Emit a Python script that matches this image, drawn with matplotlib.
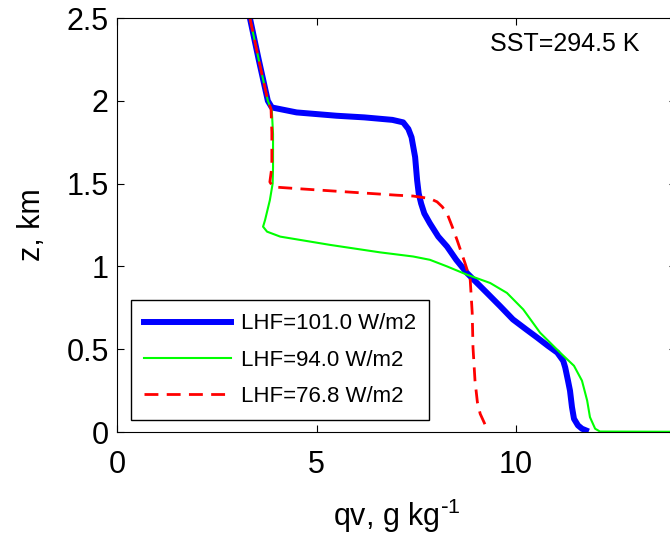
import numpy as np
import matplotlib
matplotlib.use('Agg')
import matplotlib.pyplot as plt
from matplotlib.ticker import FormatStrFormatter

plt.rcParams['font.family'] = ['Liberation Sans', 'DejaVu Sans']
plt.rcParams['mathtext.default'] = 'regular'

# profiles: qv (g/kg) against z (km)
qv_101 = [3.33, 3.55, 3.78, 3.88, 4.5, 5.5, 6.2, 6.9, 7.17, 7.30, 7.38, 7.47, 7.52, 7.56,
          7.62, 7.70, 7.84, 8.05, 8.27, 8.50, 8.77, 9.27, 9.60, 9.92, 10.25, 10.53, 10.8,
          11.03, 11.18, 11.23, 11.30, 11.35, 11.40, 11.45, 11.55, 11.65, 11.75]
z_101 = [2.5, 2.25, 2.0, 1.96, 1.93, 1.91, 1.90, 1.885, 1.87, 1.83, 1.78, 1.66, 1.52, 1.44,
         1.38, 1.32, 1.26, 1.18, 1.12, 1.04, 0.96, 0.84, 0.76, 0.68, 0.62, 0.57, 0.52,
         0.48, 0.43, 0.39, 0.31, 0.25, 0.15, 0.08, 0.04, 0.02, 0.01]

qv_94 = [3.33, 3.55, 3.78, 3.88, 3.91, 3.91, 3.90, 3.83, 3.71, 3.66, 3.76, 4.09, 5.34, 6.59,
         7.42, 7.84, 8.27, 8.77, 9.35, 9.77, 10.18, 10.6, 11.10, 11.45, 11.65, 11.78, 11.85,
         11.98, 12.10, 16.0]
z_94 = [2.5, 2.25, 2.0, 1.94, 1.80, 1.60, 1.50, 1.40, 1.28, 1.24, 1.21, 1.18, 1.13, 1.085,
        1.06, 1.04, 1.00, 0.95, 0.90, 0.84, 0.74, 0.60, 0.48, 0.40, 0.31, 0.19, 0.09,
        0.02, 0.003, 0.0]

qv_77 = [3.33, 3.55, 3.78, 3.86, 3.88, 3.88, 3.83, 3.91, 4.51, 5.76, 7.02, 7.42, 7.84, 8.02,
         8.15, 8.27, 8.40, 8.52, 8.72, 8.85, 8.90, 8.92, 8.97, 9.03, 9.10, 9.27]
z_77 = [2.5, 2.25, 2.0, 1.95, 1.81, 1.60, 1.51, 1.48, 1.47, 1.45, 1.43, 1.425, 1.41, 1.39,
        1.36, 1.32, 1.24, 1.16, 1.02, 0.92, 0.72, 0.51, 0.31, 0.18, 0.11, 0.02]

labels = ['LHF=101.0 W/m2', 'LHF=94.0 W/m2', 'LHF=76.8 W/m2']

fig = plt.figure(figsize=(6.7, 5.45), dpi=100)
ax = fig.add_axes([0.1746, 0.2073, 0.834, 0.7596])

ax.plot(qv_101, z_101, color='#0000ff', lw=4.3, label=labels[0])
ax.plot(qv_94, z_94, color='#00ff00', lw=1.5, label=labels[1])
ax.plot(qv_77, z_77, color='#ff0000', lw=2.0, ls=(0, (5, 3)), label=labels[2])

ax.set_xlim(0, 14)
ax.set_ylim(0, 2.5)
ax.set_xticks([0, 5, 10])
ax.set_yticks(np.arange(0, 2.51, 0.5))
ax.yaxis.set_major_formatter(FormatStrFormatter('%g'))
ax.tick_params(direction='in', top=True, right=True, length=5, width=0.8,
               labelsize=22)
ax.tick_params(axis='x', pad=13)
ax.tick_params(axis='y', pad=6)
for s in ax.spines.values():
    s.set_linewidth(0.8)

ax.set_xlabel(r'qv, g kg$^{\text{-}1}$', fontsize=22, labelpad=12)
ax.set_ylabel('z, km', fontsize=22, labelpad=14)

ax.text(490 / 670, 1 - 44 / 545, 'SST=294.5 K', transform=fig.transFigure,
        fontsize=18, ha='left', va='center')

leg = ax.legend(loc='lower left', bbox_to_anchor=(14 / 559, 12 / 414),
                borderaxespad=0, fontsize=16, fancybox=False,
                edgecolor='black', framealpha=1, handlelength=3.9,
                handletextpad=0.45, labelspacing=0.68, borderpad=0.6)
leg.get_frame().set_linewidth(1.0)

fig.savefig('out.png', dpi=100)
